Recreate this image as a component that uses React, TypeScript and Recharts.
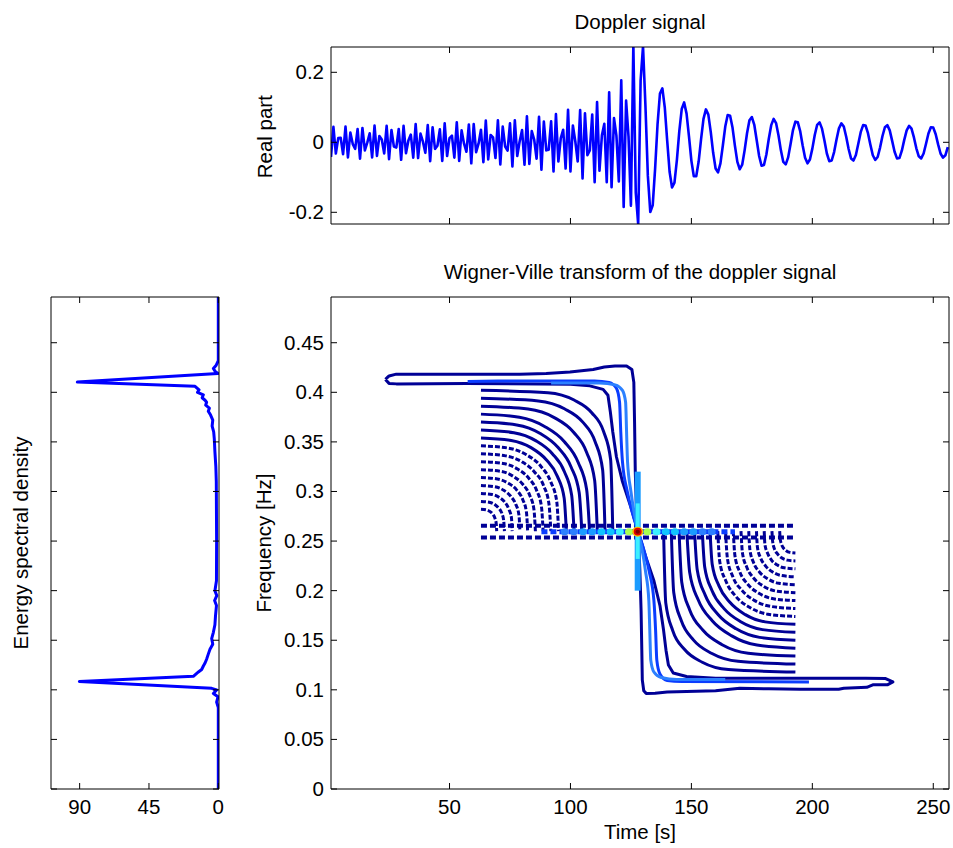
import React from 'react';
import { LineChart, Line, XAxis, YAxis } from 'recharts';

const FONT = '"Liberation Sans", Arial, Helvetica, sans-serif';
const FONT_SIZE = 20.5;
const W = 953;
const H = 848;
const TICK_LEN = 6;

// real part of the doppler signal, samples 1..256
const dopplerReal = [
  -0.042, 0.044, -0.032, 0.012, 0.013, -0.034, 0.045, -0.043, 0.028, -0.005,
  -0.019, 0.038, -0.047, 0.041, -0.023, -0.001, 0.026, -0.043, 0.048, -0.039,
  0.018, 0.008, -0.032, 0.047, -0.048, 0.035, -0.012, -0.015, 0.038, -0.05,
  0.047, -0.031, 0.005, 0.022, -0.044, 0.052, -0.045, 0.025, 0.002, -0.03,
  0.049, -0.054, 0.043, -0.019, -0.01, 0.037, -0.053, 0.054, -0.039, 0.012,
  0.019, -0.044, 0.057, -0.053, 0.034, -0.004, -0.027, 0.051, -0.06, 0.052,
  -0.028, -0.004, 0.036, -0.057, 0.062, -0.049, 0.021, 0.014, -0.045, 0.063,
  -0.063, 0.045, -0.012, -0.024, 0.054, -0.069, 0.063, -0.039, 0.003, 0.035,
  -0.064, 0.074, -0.062, 0.032, 0.008, -0.047, 0.073, -0.078, 0.059, -0.023,
  -0.021, 0.06, -0.083, 0.081, -0.055, 0.012, 0.036, -0.075, 0.093, -0.083,
  0.048, 0.003, -0.055, 0.092, -0.103, 0.083, -0.037, -0.023, 0.079, -0.114,
  0.115, -0.081, 0.02, 0.053, -0.114, 0.143, -0.128, 0.069, 0.019, -0.112,
  0.177, -0.185, 0.119, 0.017, -0.181, 0.279, -0.144, -0.234,
  0.176, 0.274, 0.104, -0.096, -0.199, -0.18, -0.075, 0.051, 0.139, 0.154,
  0.099, 0.004, -0.085, -0.129, -0.115, -0.051, 0.032, 0.095, 0.114, 0.082,
  0.017, -0.053, -0.097, -0.097, -0.055, 0.009, 0.067, 0.094, 0.079, 0.03,
  -0.03, -0.075, -0.086, -0.06, -0.009, 0.045, 0.078, 0.076, 0.042, -0.01,
  -0.056, -0.077, -0.064, -0.023, 0.026, 0.063, 0.072, 0.05, 0.006, -0.039,
  -0.067, -0.065, -0.035, 0.01, 0.049, 0.067, 0.055, 0.02, -0.023, -0.056,
  -0.063, -0.043, -0.005, 0.035, 0.059, 0.057, 0.031, -0.009, -0.044, -0.06,
  -0.049, -0.018, 0.021, 0.05, 0.057, 0.039, 0.005, -0.032, -0.054, -0.052,
  -0.028, 0.008, 0.04, 0.054, 0.045, 0.016, -0.019, -0.046, -0.052, -0.036,
  -0.004, 0.029, 0.049, 0.048, 0.026, -0.007, -0.037, -0.05, -0.042, -0.015,
  0.018, 0.043, 0.049, 0.034, 0.004, -0.027, -0.046, -0.045, -0.024, 0.007,
  0.034, 0.047, 0.039, 0.014, -0.017, -0.04, -0.046, -0.032, -0.004, 0.025,
  0.043, 0.042, 0.023, -0.006, -0.032, -0.044, -0.037, -0.014,
];

const sampleTicks = [50, 100, 150, 200, 250];
const realTicks = [-0.2, 0, 0.2];
const freqTicks = [0, 0.05, 0.1, 0.15, 0.2, 0.25, 0.3, 0.35, 0.4, 0.45];
const esdTicks = [0, 45, 90];

// energy spectral density: [frequency, energy]
const esdCurve = [
  [0.4961, 0], [0.432, 0], [0.427, 1.5], [0.424, 3.2], [0.421, 2.0], [0.419, 0.3],
  [0.4103, 91.5], [0.4061, 15.1], [0.4025, 12.5], [0.4, 13.5], [0.3975, 9.7],
  [0.3945, 10.5], [0.392, 8.6], [0.39, 7.6], [0.387, 8.2], [0.384, 5.8], [0.381, 6.5],
  [0.377, 5], [0.372, 3.6], [0.366, 4], [0.36, 3], [0.353, 2.6], [0.34, 2.2],
  [0.325, 1.6], [0.31, 1.3], [0.25, 1.1], [0.21, 1.2], [0.2, 2.2], [0.195, 1],
  [0.19, 2.4], [0.185, 1.2], [0.175, 1.8], [0.1656, 2.2], [0.158, 3.2], [0.1517, 4.3],
  [0.146, 3.6], [0.141, 5.4], [0.136, 6.5], [0.1309, 7.6], [0.127, 8.6], [0.124, 9.7],
  [0.1205, 10.8], [0.118, 12.9], [0.1136, 16.2], [0.1084, 90.2], [0.1015, 4.3],
  [0.0998, 1.1], [0.0963, 3.2], [0.093, 0.2], [0.0877, 1.1], [0.082, 0], [0, 0],
];

// Wigner-Ville contours, points as [time, frequency]
const outerContour = [
  [23.5, 0.413], [25, 0.4165], [28, 0.4183], [57, 0.4183], [79, 0.4183], [90, 0.419],
  [99.8, 0.4205], [109.4, 0.423], [114, 0.4255], [118.4, 0.4266], [123.2, 0.4266], [125.4, 0.423],
  [126.2, 0.41], [126.5, 0.37], [126.8, 0.32], [127.3, 0.28], [128, 0.2595],
  [128.7, 0.22], [129.2, 0.18], [129.5, 0.14], [129.7, 0.11], [130.3, 0.099], [131.3, 0.0964],
  [135, 0.0965], [140, 0.0978], [160, 0.099], [170, 0.1015], [182, 0.101], [195, 0.1005],
  [210.9, 0.1005], [213, 0.1015], [222.5, 0.1025], [225, 0.105], [231, 0.105], [233.3, 0.108],
  [230.3, 0.1113], [222, 0.1116], [197, 0.1116], [160, 0.1116], [148, 0.1135], [142.5, 0.117],
  [140.5, 0.125], [139.5, 0.14], [138.5, 0.16], [137, 0.185], [134.5, 0.21], [131, 0.235], [128, 0.2595],
  [125, 0.284], [121.5, 0.31], [119, 0.335], [117.5, 0.36], [116.5, 0.38], [115.5, 0.397],
  [113.5, 0.403], [108, 0.4065], [100, 0.408], [57, 0.409], [28, 0.4085], [25, 0.409], [23.5, 0.413],
];

const ridgeA = [
  [57.5, 0.411], [70, 0.4113], [90, 0.4115], [110, 0.4115], [116, 0.41], [119, 0.404],
  [120.3, 0.39], [120.8, 0.36], [121.5, 0.33], [123.5, 0.3], [126, 0.275], [128, 0.2595],
  [130, 0.244], [132.5, 0.22], [134.5, 0.19], [135.2, 0.16], [135.7, 0.13], [137, 0.116],
  [140, 0.1095], [146, 0.1085], [198.6, 0.108],
];

const ridgeB = [
  [92, 0.4095], [112, 0.4095], [118.5, 0.4075], [121.5, 0.402], [122.8, 0.39], [123.2, 0.36],
  [123.6, 0.33], [125, 0.3], [126.6, 0.275], [128, 0.2595], [129.4, 0.244], [131, 0.22],
  [132.4, 0.19], [132.8, 0.16], [133.2, 0.13], [134.5, 0.118], [137.5, 0.1125], [144, 0.1105],
  [164, 0.1105],
];

const upperArcs = [
  [[63, 0.402], [90.7, 0.3996], [101.5, 0.3922], [108.8, 0.3794], [113.7, 0.3604], [116.6, 0.3323], [117.5, 0.26]],
  [[63, 0.394], [86.7, 0.3913], [97.5, 0.3834], [105.1, 0.3699], [110.2, 0.3502], [113.3, 0.3219], [114.3, 0.26]],
  [[63, 0.386], [82.5, 0.3831], [93.3, 0.3745], [101.2, 0.36], [106.7, 0.3394], [110, 0.3112], [111.1, 0.26]],
  [[63, 0.378], [78.9, 0.3749], [89.3, 0.3656], [97.4, 0.3504], [103.2, 0.3292], [106.7, 0.3018], [107.9, 0.26]],
  [[63, 0.37], [77.8, 0.3671], [87.5, 0.3585], [94.9, 0.3443], [100.3, 0.3245], [103.6, 0.2989], [104.7, 0.26]],
  [[63, 0.362], [76.6, 0.3593], [85.6, 0.3513], [92.5, 0.3381], [97.5, 0.3199], [100.5, 0.2961], [101.5, 0.26]],
  [[63, 0.354], [75.5, 0.3515], [83.7, 0.3442], [90, 0.332], [94.6, 0.3152], [97.4, 0.2933], [98.3, 0.26]],
  [[63, 0.346], [74.4, 0.3437], [81.8, 0.337], [87.6, 0.3259], [91.7, 0.3105], [94.3, 0.2904], [95.1, 0.26]],
  [[63, 0.338], [73.2, 0.3359], [80, 0.3298], [85.1, 0.3197], [88.9, 0.3058], [91.1, 0.2876], [91.9, 0.26]],
  [[63, 0.33], [72.1, 0.3282], [78.1, 0.3227], [82.7, 0.3136], [86, 0.3011], [88, 0.2848], [88.7, 0.26]],
  [[63, 0.322], [71, 0.3204], [76.2, 0.3155], [80.2, 0.3075], [83.1, 0.2964], [84.9, 0.2819], [85.5, 0.26]],
  [[63, 0.314], [69.8, 0.3126], [74.3, 0.3083], [77.8, 0.3014], [80.3, 0.2917], [81.8, 0.2791], [82.3, 0.26]],
  [[63, 0.306], [68.7, 0.3048], [72.4, 0.3012], [75.3, 0.2952], [77.4, 0.287], [78.7, 0.2763], [79.1, 0.26]],
  [[63, 0.298], [67.6, 0.297], [70.6, 0.294], [72.9, 0.2891], [74.5, 0.2823], [75.6, 0.2735], [75.9, 0.26]],
  [[63, 0.29], [66.4, 0.2892], [68.7, 0.2869], [70.4, 0.283], [71.7, 0.2776], [72.4, 0.2706], [72.7, 0.26]],
  [[63, 0.282], [65.3, 0.2814], [66.8, 0.2797], [68, 0.2769], [68.8, 0.2729], [69.3, 0.2678], [69.5, 0.26]],
];

const lowerArcs = [
  [[138.5, 0.26], [139.4, 0.1877], [142.3, 0.1596], [147.2, 0.1406], [154.5, 0.1278], [165.3, 0.1204], [193, 0.118]],
  [[141.7, 0.26], [142.7, 0.1981], [145.8, 0.1698], [150.9, 0.1501], [158.5, 0.1366], [169.3, 0.1287], [193, 0.126]],
  [[144.9, 0.26], [146, 0.2088], [149.3, 0.1806], [154.8, 0.16], [162.7, 0.1455], [173.5, 0.1369], [193, 0.134]],
  [[148.1, 0.26], [149.3, 0.2182], [152.8, 0.1908], [158.6, 0.1696], [166.7, 0.1544], [177.1, 0.1451], [193, 0.142]],
  [[151.3, 0.26], [152.4, 0.2211], [155.7, 0.1955], [161.1, 0.1757], [168.5, 0.1615], [178.2, 0.1529], [193, 0.15]],
  [[154.5, 0.26], [155.5, 0.2239], [158.5, 0.2001], [163.5, 0.1819], [170.4, 0.1687], [179.4, 0.1607], [193, 0.158]],
  [[157.7, 0.26], [158.6, 0.2267], [161.4, 0.2048], [166, 0.188], [172.3, 0.1758], [180.5, 0.1685], [193, 0.166]],
  [[160.9, 0.26], [161.7, 0.2296], [164.3, 0.2095], [168.4, 0.1941], [174.2, 0.183], [181.6, 0.1763], [193, 0.174]],
  [[164.1, 0.26], [164.9, 0.2324], [167.1, 0.2142], [170.9, 0.2003], [176, 0.1902], [182.8, 0.1841], [193, 0.182]],
  [[167.3, 0.26], [168, 0.2352], [170, 0.2189], [173.3, 0.2064], [177.9, 0.1973], [183.9, 0.1918], [193, 0.19]],
  [[170.5, 0.26], [171.1, 0.2381], [172.9, 0.2236], [175.8, 0.2125], [179.8, 0.2045], [185, 0.1996], [193, 0.198]],
  [[173.7, 0.26], [174.2, 0.2409], [175.7, 0.2283], [178.2, 0.2186], [181.7, 0.2117], [186.2, 0.2074], [193, 0.206]],
  [[176.9, 0.26], [177.3, 0.2437], [178.6, 0.233], [180.7, 0.2248], [183.6, 0.2188], [187.3, 0.2152], [193, 0.214]],
  [[180.1, 0.26], [180.4, 0.2465], [181.5, 0.2377], [183.1, 0.2309], [185.4, 0.226], [188.4, 0.223], [193, 0.222]],
  [[183.3, 0.26], [183.6, 0.2494], [184.3, 0.2424], [185.6, 0.237], [187.3, 0.2331], [189.6, 0.2308], [193, 0.23]],
  [[186.5, 0.26], [186.7, 0.2522], [187.2, 0.2471], [188, 0.2431], [189.2, 0.2403], [190.7, 0.2386], [193, 0.238]],
];

// cross term along f = 0.26
const beadRowHigh = [[63, 0.2655], [193, 0.2655]];
const beadRowLow = [[63, 0.2535], [193, 0.2535]];
const centreRow = [[88, 0.2595], [168, 0.2595]];
const centreColumnWide = [[127.8, 0.2], [127.8, 0.32]];
const centreColumn = [[127.8, 0.232], [127.8, 0.288]];
const blueBlobs = [[97.6, 0.2595], [101.4, 0.2595], [154.6, 0.2595], [158.4, 0.2595]];
const lightBlobs = [[105.2, 0.2595], [109, 0.2595], [147, 0.2595], [150.8, 0.2595]];
const skyBlobs = [[112.8, 0.2595], [116.6, 0.2595], [139.4, 0.2595], [143.2, 0.2595]];
const cyanBlobs = [[120.4, 0.2595], [135.6, 0.2595]];
const greenBlobs = [[124.2, 0.2595], [131.8, 0.2595]];
const peak = [[127.8, 0.2595]];

const NAVY = '#000096';
const BLUE_A = '#0A3DFF';
const BLUE_B = '#2C80FF';
const LIGHT = '#1A9CFF';
const SKY = '#10C4FF';
const CYAN = '#3CF0FF';
const GREEN = '#A8FF50';

type Box = { left: number; right: number; top: number; bottom: number };
const TOP: Box = { left: 331, right: 949, top: 47, bottom: 224 };
const MAIN: Box = { left: 331, right: 949, top: 297, bottom: 789 };
const SIDE: Box = { left: 51, right: 219, top: 297, bottom: 789 };

const marginFor = (b: Box) => ({ top: b.top - 4, right: W - b.right - 4, bottom: H - b.bottom - 4, left: b.left - 4 });
const toPts = (a: number[][]) => a.map(([t, f]) => ({ t, f }));
const axisLine = { stroke: '#000', strokeWidth: 1 };

const label = (x: number, y: number, s: string, anchor: 'start' | 'middle' | 'end') => (
  <text x={x} y={y} textAnchor={anchor} fontFamily={FONT} fontSize={FONT_SIZE} fill="#000">{s}</text>
);

const bottomTick = (axisY: number, labels: boolean) => (p: any) => {
  const x = p.payload.coordinate;
  return (
    <g>
      <line x1={x} x2={x} y1={axisY} y2={axisY - TICK_LEN} stroke="#000" />
      {labels && label(x, axisY + 25, String(p.payload.value), 'middle')}
    </g>
  );
};
const topTick = (axisY: number) => (p: any) => {
  const x = p.payload.coordinate;
  return <line x1={x} x2={x} y1={axisY} y2={axisY + TICK_LEN} stroke="#000" />;
};
const leftTick = (axisX: number, labels: boolean) => (p: any) => {
  const y = p.payload.coordinate;
  return (
    <g>
      <line x1={axisX} x2={axisX + TICK_LEN} y1={y} y2={y} stroke="#000" />
      {labels && label(axisX - 7, y + 7, String(p.payload.value), 'end')}
    </g>
  );
};
const rightTick = (axisX: number) => (p: any) => {
  const y = p.payload.coordinate;
  return <line x1={axisX} x2={axisX - TICK_LEN} y1={y} y2={y} stroke="#000" />;
};

const blob = (fill: string, rx: number, ry: number) => (p: any) => (
  <ellipse key={`b${p.index}`} cx={p.cx} cy={p.cy} rx={rx} ry={ry} fill={fill} />
);

const Layer: React.FC<{ children: React.ReactNode }> = ({ children }) => (
  <div style={{ position: 'absolute', left: 0, top: 0 }}>{children}</div>
);

export default function App() {
  const dopplerData = dopplerReal.map((v, i) => ({ n: i + 1, v }));
  const esdData = esdCurve.map(([f, e]) => ({ f, e }));
  const T_DOMAIN: [number, number] = [1, 256.5];
  const F_DOMAIN: [number, number] = [0, 0.4961];

  const contour = (key: string, pts: number[][], color: string, width: number, type: 'linear' | 'monotone', dash?: string) => (
    <Line
      key={key}
      xAxisId="b"
      yAxisId="l"
      data={toPts(pts)}
      dataKey="f"
      type={type}
      stroke={color}
      strokeWidth={width}
      strokeDasharray={dash}
      strokeLinejoin="round"
      dot={false}
      activeDot={false}
      isAnimationActive={false}
    />
  );
  const blobs = (key: string, pts: number[][], fill: string, rx: number, ry: number) => (
    <Line
      key={key}
      xAxisId="b"
      yAxisId="l"
      data={toPts(pts)}
      dataKey="f"
      stroke="none"
      dot={blob(fill, rx, ry)}
      activeDot={false}
      isAnimationActive={false}
    />
  );

  return (
    <div style={{ position: 'absolute', left: 0, top: 0, width: W, height: H, background: '#fff', overflow: 'hidden' }}>
      {/* Doppler signal */}
      <Layer>
        <LineChart width={W} height={H} data={dopplerData} margin={marginFor(TOP)}>
          <XAxis xAxisId="b" orientation="bottom" type="number" dataKey="n" domain={T_DOMAIN} ticks={sampleTicks}
            interval={0} height={4} tickLine={false} axisLine={axisLine} tick={bottomTick(TOP.bottom, false)} allowDataOverflow />
          <XAxis xAxisId="t" orientation="top" type="number" dataKey="n" domain={T_DOMAIN} ticks={sampleTicks}
            interval={0} height={4} tickLine={false} axisLine={axisLine} tick={topTick(TOP.top)} allowDataOverflow />
          <YAxis yAxisId="l" orientation="left" type="number" domain={[-0.2334, 0.2723]} ticks={realTicks}
            interval={0} width={4} tickLine={false} axisLine={axisLine} tick={leftTick(TOP.left, true)} allowDataOverflow />
          <YAxis yAxisId="r" orientation="right" type="number" domain={[-0.2334, 0.2723]} ticks={realTicks}
            interval={0} width={4} tickLine={false} axisLine={axisLine} tick={rightTick(TOP.right)} allowDataOverflow />
          <Line xAxisId="t" yAxisId="r" dataKey="v" stroke="none" dot={false} activeDot={false} isAnimationActive={false} />
          <Line xAxisId="b" yAxisId="l" dataKey="v" type="linear" stroke="#0000FF" strokeWidth={2.6}
            strokeLinejoin="round" dot={false} activeDot={false} isAnimationActive={false} />
        </LineChart>
      </Layer>

      {/* Energy spectral density */}
      <Layer>
        <LineChart width={W} height={H} data={esdData} margin={marginFor(SIDE)}>
          <XAxis xAxisId="b" orientation="bottom" type="number" dataKey="e" domain={[-0.45, 108.6]} reversed ticks={esdTicks}
            interval={0} height={4} tickLine={false} axisLine={axisLine} tick={bottomTick(SIDE.bottom, true)} allowDataOverflow />
          <XAxis xAxisId="t" orientation="top" type="number" dataKey="e" domain={[-0.45, 108.6]} reversed ticks={esdTicks}
            interval={0} height={4} tickLine={false} axisLine={axisLine} tick={topTick(SIDE.top)} allowDataOverflow />
          <YAxis yAxisId="l" orientation="left" type="number" domain={F_DOMAIN} ticks={freqTicks}
            interval={0} width={4} tickLine={false} axisLine={axisLine} tick={leftTick(SIDE.left, false)} allowDataOverflow />
          <YAxis yAxisId="r" orientation="right" type="number" domain={F_DOMAIN} ticks={freqTicks}
            interval={0} width={4} tickLine={false} axisLine={axisLine} tick={rightTick(SIDE.right)} allowDataOverflow />
          <Line xAxisId="t" yAxisId="r" dataKey="f" stroke="none" dot={false} activeDot={false} isAnimationActive={false} />
          <Line xAxisId="b" yAxisId="l" dataKey="f" type="linear" stroke="#0000FF" strokeWidth={3}
            strokeLinejoin="round" dot={false} activeDot={false} isAnimationActive={false} />
        </LineChart>
      </Layer>

      {/* Wigner-Ville contours */}
      <Layer>
        <LineChart width={W} height={H} margin={marginFor(MAIN)}>
          <XAxis xAxisId="b" orientation="bottom" type="number" dataKey="t" domain={T_DOMAIN} ticks={sampleTicks}
            interval={0} height={4} tickLine={false} axisLine={axisLine} tick={bottomTick(MAIN.bottom, true)} allowDataOverflow />
          <XAxis xAxisId="t" orientation="top" type="number" dataKey="t" domain={T_DOMAIN} ticks={sampleTicks}
            interval={0} height={4} tickLine={false} axisLine={axisLine} tick={topTick(MAIN.top)} allowDataOverflow />
          <YAxis yAxisId="l" orientation="left" type="number" dataKey="f" domain={F_DOMAIN} ticks={freqTicks}
            interval={0} width={4} tickLine={false} axisLine={axisLine} tick={leftTick(MAIN.left, true)} allowDataOverflow />
          <YAxis yAxisId="r" orientation="right" type="number" dataKey="f" domain={F_DOMAIN} ticks={freqTicks}
            interval={0} width={4} tickLine={false} axisLine={axisLine} tick={rightTick(MAIN.right)} allowDataOverflow />
          <Line xAxisId="t" yAxisId="r" data={toPts(outerContour)} dataKey="f" stroke="none" dot={false} activeDot={false} isAnimationActive={false} />
          {upperArcs.map((a, i) => contour(`ua${i}`, a, NAVY, 3, 'monotone', i > 6 ? '5 2' : undefined))}
          {lowerArcs.map((a, i) => contour(`la${i}`, a, NAVY, 3, 'monotone', i > 6 ? '5 2' : undefined))}
          {contour('rowH', beadRowHigh, NAVY, 4, 'linear', '6 3')}
          {contour('rowL', beadRowLow, NAVY, 4, 'linear', '6 3')}
          {contour('outer', outerContour, NAVY, 3, 'linear')}
          {contour('ridgeA', ridgeA, BLUE_A, 3, 'monotone')}
          {contour('ridgeB', ridgeB, BLUE_B, 3, 'monotone')}
          {contour('row', centreRow, BLUE_A, 5, 'linear', '6 3')}
          {contour('colW', centreColumnWide, LIGHT, 6, 'linear')}
          {contour('col', centreColumn, CYAN, 4, 'linear')}
          {blobs('bb', blueBlobs, BLUE_B, 4, 3.5)}
          {blobs('lb', lightBlobs, LIGHT, 4, 3.5)}
          {blobs('sb', skyBlobs, SKY, 4, 3.5)}
          {blobs('cb', cyanBlobs, CYAN, 4, 3.5)}
          {blobs('gb', greenBlobs, GREEN, 4, 3.5)}
          {blobs('pk1', peak, '#FFC000', 5.5, 5)}
          {blobs('pk2', peak, '#E00000', 4, 3.8)}
          {blobs('pk3', peak, '#7A0000', 2.2, 2)}
        </LineChart>
      </Layer>

      {/* titles and axis labels */}
      <svg width={W} height={H} style={{ position: 'absolute', left: 0, top: 0, pointerEvents: 'none' }}>
        {label(640, 29, 'Doppler signal', 'middle')}
        {label(640, 279, 'Wigner-Ville transform of the doppler signal', 'middle')}
        {label(640, 839, 'Time [s]', 'middle')}
        <g transform="translate(272,136.7) rotate(-90)">{label(0, 0, 'Real part', 'middle')}</g>
        <g transform="translate(270.5,543) rotate(-90)">{label(0, 0, 'Frequency [Hz]', 'middle')}</g>
        <g transform="translate(27.5,543) rotate(-90)">{label(0, 0, 'Energy spectral density', 'middle')}</g>
      </svg>
    </div>
  );
}
